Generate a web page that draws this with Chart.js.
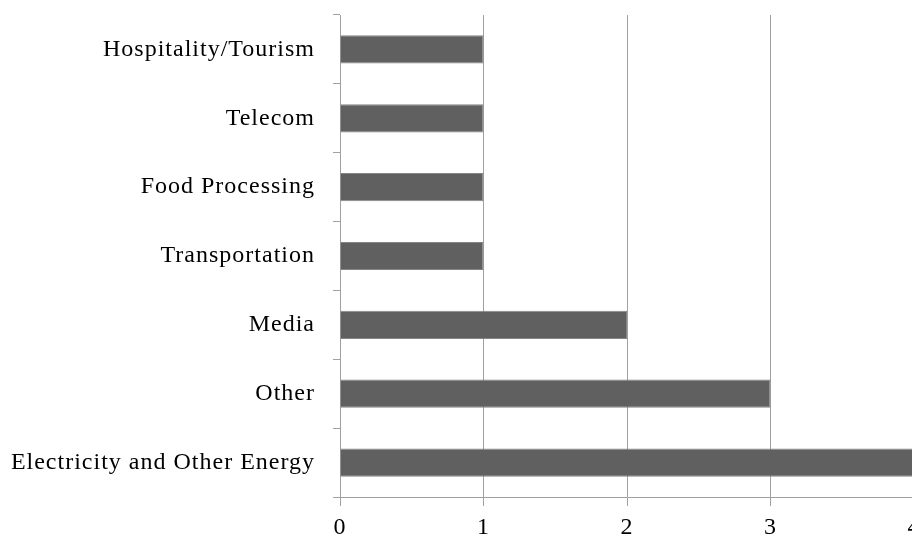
<!DOCTYPE html>
<html>
<head>
<meta charset="utf-8">
<script src="https://cdn.jsdelivr.net/npm/chart.js@4"></script>
<style>
html,body{margin:0;padding:0;background:#fff;overflow:hidden;}
#wrap{position:relative;width:914px;height:540px;}
</style>
</head>
<body>
<div id="wrap"><canvas id="c"></canvas></div>
<script>
const categories = ["Hospitality/Tourism","Telecom","Food Processing","Transportation","Media","Other","Electricity and Other Energy"];
const values = [1,1,1,1,2,3,4];
const xTicks = [0,1,2,3,4];

const font = {family:"'Liberation Serif','Times New Roman',serif", size:24};
const spacingPlugin = {
  id:'spacing',
  beforeUpdate(chart){ chart.ctx.letterSpacing='1px'; },
  beforeDraw(chart){ chart.ctx.letterSpacing='1px'; }
};
new Chart(document.getElementById('c'), {
  type:'bar',
  data:{labels:categories, datasets:[{data:values, backgroundColor:'#606060', borderColor:'#858585', borderWidth:1, barPercentage:0.41, categoryPercentage:1}]},
  plugins:[spacingPlugin],
  options:{
    indexAxis:'y', responsive:true, maintainAspectRatio:false, animation:false,
    layout:{padding:{top:15,left:0,right:0,bottom:0}},
    plugins:{legend:{display:false}, tooltip:{enabled:false}},
    scales:{
      x:{min:0,max:4,
         afterBuildTicks:(s)=>{s.ticks = xTicks.map(v=>({value:v}));},
         afterFit:(s)=>{s.height=43; s.paddingLeft=0; s.paddingRight=0;},
         grid:{color:'#a0a0a0',lineWidth:1,tickLength:9,drawTicks:true},
         border:{color:'#a0a0a0'},
         ticks:{color:'#000',font:font,padding:7}},
      y:{afterFit:(s)=>{s.width=340; s.paddingTop=0; s.paddingBottom=0;},
         grid:{drawOnChartArea:false,color:'#a0a0a0',tickLength:7,offset:true},
         border:{color:'#a0a0a0'},
         ticks:{color:'#000',font:font,padding:18}}
    }
  }
});
</script>
</body>
</html>
